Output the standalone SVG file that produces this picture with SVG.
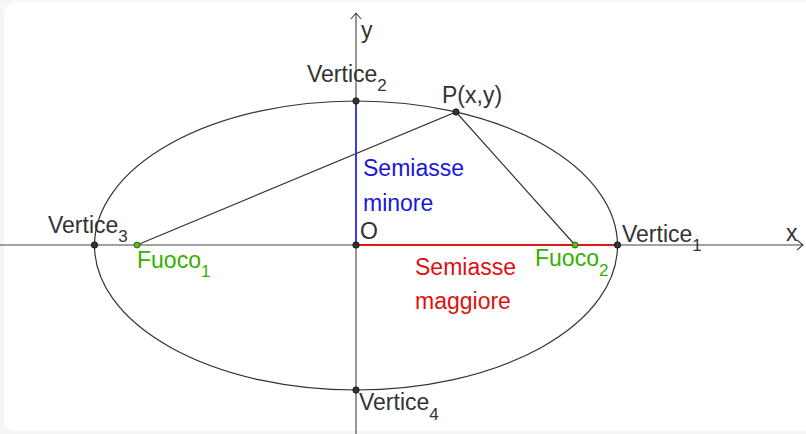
<svg xmlns="http://www.w3.org/2000/svg" width="806" height="434" viewBox="0 0 806 434">
<style>
text{font-family:"Liberation Sans",Arial,sans-serif;font-size:23px;fill:#333}
.sub{font-size:17px}
.bl{fill:#1818d8}
.rd{fill:#e01010}
.gr{fill:#33b000}
.ax{stroke:#444;stroke-width:1.1;fill:none}
.cv{stroke:#333;stroke-width:1.2;fill:none}
.pt{fill:#333;stroke:#111;stroke-width:0.8}
.fp{fill:#55bb22;stroke:#225500;stroke-width:0.8}
</style>
<rect width="806" height="434" fill="#f5f5f7"/>
<rect x="4" y="2" width="830" height="429" rx="12" fill="#ffffff"/>
<g id="connectors">
<path class="ax" d="M0 245 H803 M797 240 L803 245 L797 250"/>
<path class="ax" d="M356 434 V13 M351 19 L356 13 L361 19"/>
<ellipse class="cv" cx="356" cy="245.5" rx="261.5" ry="144.5"/>
<line x1="356" y1="101" x2="356" y2="245" stroke="#3a3aee" stroke-width="2"/>
<line x1="356" y1="245" x2="617" y2="245" stroke="#e01818" stroke-width="2"/>
<path class="cv" d="M137 245 L456 112 L575 245"/>
</g>
<g id="O"><circle class="pt" cx="356" cy="245" r="3.2"/><text x="360" y="239">O</text></g>
<g id="vertice1"><circle class="pt" cx="617.5" cy="245" r="3.2"/><text x="622" y="242">Vertice<tspan class="sub" dy="9">1</tspan></text></g>
<g id="vertice2"><circle class="pt" cx="356" cy="101" r="3.2"/><text x="307" y="82">Vertice<tspan class="sub" dy="9">2</tspan></text></g>
<g id="vertice3"><circle class="pt" cx="94.5" cy="245" r="3.2"/><text x="48" y="233">Vertice<tspan class="sub" dy="9">3</tspan></text></g>
<g id="vertice4"><circle class="pt" cx="356" cy="390" r="3.2"/><text x="359" y="410">Vertice<tspan class="sub" dy="10">4</tspan></text></g>
<g id="fuoco1"><circle class="fp" cx="137" cy="245" r="3"/><text class="gr" x="137" y="268">Fuoco<tspan class="sub gr" dy="9">1</tspan></text></g>
<g id="fuoco2"><circle class="fp" cx="575" cy="245" r="3"/><text class="gr" x="535" y="266">Fuoco<tspan class="sub gr" dy="10">2</tspan></text></g>
<g id="P"><circle class="pt" cx="456" cy="112" r="3.2"/><text x="442" y="103">P(x,y)</text></g>
<g id="semiasse-minore"><text class="bl" x="363" y="176">Semiasse</text><text class="bl" x="363" y="211">minore</text></g>
<g id="semiasse-maggiore"><text class="rd" x="415" y="275">Semiasse</text><text class="rd" x="415" y="309">maggiore</text></g>
<g id="axis-labels"><text x="361" y="38">y</text><text x="786" y="241">x</text></g>
</svg>
